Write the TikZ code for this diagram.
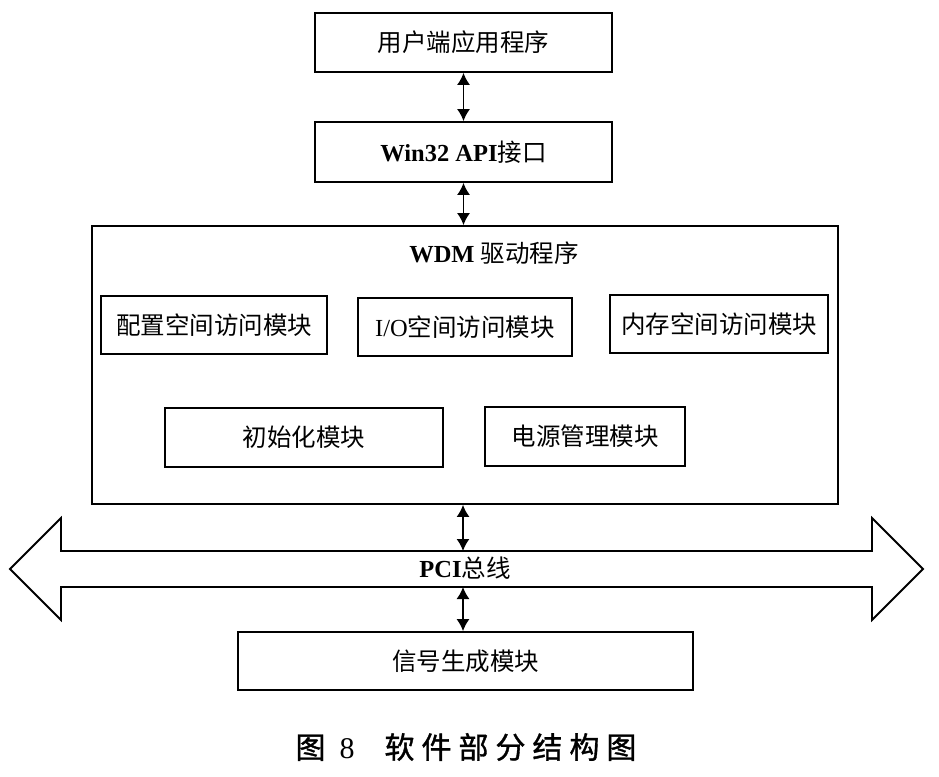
\documentclass[tikz,border=0pt]{standalone}
\usepackage{fontspec}
\setmainfont{Liberation Serif}
\newfontfamily\cjk{Noto Sans CJK SC}
\newfontfamily\cjkcap[FakeBold=1.2]{Noto Sans CJK SC}
\usetikzlibrary{arrows.meta}
\tikzset{
  blk/.style={draw, line width=1.8pt, inner sep=0pt, align=center,
    font=\fontsize{24.5}{28}\selectfont},
  lbl/.style={inner sep=0pt, font=\fontsize{24.5}{28}\selectfont},
  link/.style={line width=1.6pt, {Latex[length=12pt,width=13pt]}-{Latex[length=12pt,width=13pt]}},
  busline/.style={line width=1.8pt, line join=miter}
}
\begin{document}
\begin{tikzpicture}[x=1pt, y=-1pt]
\useasboundingbox (0,0) rectangle (939,776);
% top boxes
\node[blk, minimum width=297pt, minimum height=59pt] (app) at (463.5,42.5) {\cjk 用户端应用程序};
\node[blk, minimum width=297pt, minimum height=60pt] (api) at (463.5,152) {\textbf{Win32 API}{\cjk 接口}};
% WDM container
\node[blk, minimum width=746pt, minimum height=278pt] (wdm) at (465,365) {};
\node[lbl] (wdmt) at (494,253) {\textbf{WDM} {\cjk 驱动程序}};
% modules
\node[blk, minimum width=226pt, minimum height=58pt] (cfg) at (214,325) {\cjk 配置空间访问模块};
\node[blk, minimum width=214pt, minimum height=58pt] (io) at (465,327) {I/O{\cjk 空间访问模块}};
\node[blk, minimum width=218pt, minimum height=58pt] (mem) at (719,324) {\cjk 内存空间访问模块};
\node[blk, minimum width=278pt, minimum height=59pt] (init) at (304,437.5) {\cjk 初始化模块};
\node[blk, minimum width=200pt, minimum height=59pt] (pwr) at (585,436.5) {\cjk 电源管理模块};
% PCI bus
\coordinate (bt) at (463,551);
\coordinate (bb) at (463,587);
\draw[busline] (10,569) -- (61,518) -- (61,551) -- (872,551) -- (872,518) -- (923,569)
  -- (872,620) -- (872,587) -- (61,587) -- (61,620) -- cycle;
\node[lbl] (pci) at (465,568) {\textbf{PCI}{\cjk 总线}};
% signal module
\node[blk, minimum width=455pt, minimum height=58pt] (sig) at (465.5,661) {\cjk 信号生成模块};
% connectors
\draw[link] (app.south) -- (api.north);
\draw[link] (api.south) -- (api.south |- wdm.north);
\draw[link] (bt |- wdm.south) -- (bt);
\draw[link] (bb) -- (bb |- sig.north);
% caption
\node[inner sep=0pt, font=\fontsize{30}{34}\selectfont] (cap) at (466,747)
  {{\cjkcap 图}\hspace{14pt}8\hspace{30pt}{\cjkcap 软}\hspace{7pt}{\cjkcap 件}\hspace{7pt}{\cjkcap 部}\hspace{7pt}{\cjkcap 分}\hspace{7pt}{\cjkcap 结}\hspace{7pt}{\cjkcap 构}\hspace{7pt}{\cjkcap 图}};
\end{tikzpicture}
\end{document}
